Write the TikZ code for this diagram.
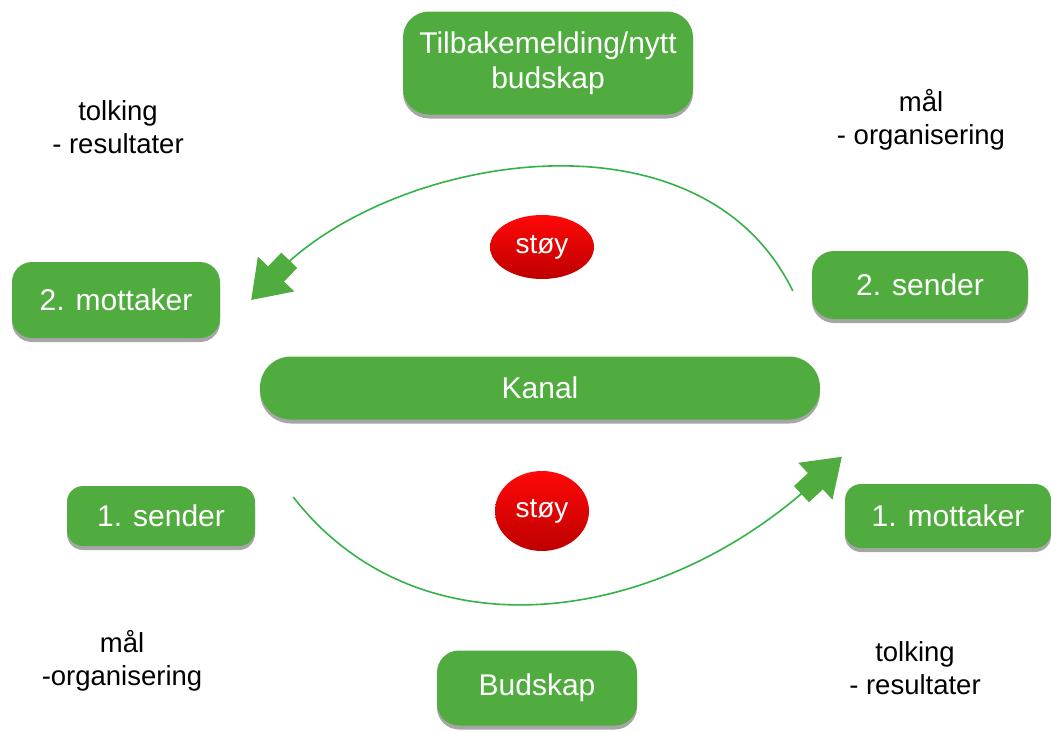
\documentclass[tikz,border=0pt]{standalone}
\usepackage{fontspec}
\setmainfont{Liberation Sans}
\usetikzlibrary{shapes.geometric,arrows.meta,shadows}
\definecolor{grn}{RGB}{80,172,62}
\definecolor{linegrn}{RGB}{52,178,72}
\definecolor{redtop}{RGB}{255,8,8}
\definecolor{redbot}{RGB}{190,0,0}
\begin{document}
\begin{tikzpicture}[x=1pt,y=-1pt,
  box/.style={rectangle, fill=grn, text=white, align=center, inner sep=0pt,
    font=\fontsize{30}{35}\selectfont,
    drop shadow={shadow xshift=0pt, shadow yshift=-4pt, opacity=0.35, fill=black}},
  noise/.style={ellipse, top color=redtop, bottom color=redbot, text=white, inner sep=0pt,
    font=\fontsize{28}{30}\selectfont},
  lbl/.style={text=black, align=center, font=\fontsize{27.5}{33}\selectfont},
  flow/.style={draw=linegrn, line width=1.6pt,
    -{Rectangle[length=20pt, width=22pt, sep=-1pt, fill=grn, color=grn]Triangle[length=36pt, width=50pt, fill=grn, color=grn]}}
]
\useasboundingbox (0,0) rectangle (1051,731);

\node[box, minimum width=290pt, minimum height=103pt, rounded corners=26pt] (tb) at (548,63) {Tilbakemelding/nytt\\budskap};
\node[box, minimum width=208pt, minimum height=76pt, rounded corners=20pt] (m2) at (116,300) {2. mottaker};
\node[box, minimum width=216pt, minimum height=68pt, rounded corners=22pt] (s2) at (920,285) {2. sender};
\node[box, minimum width=560pt, minimum height=63pt, rounded corners=31pt] (kanal) at (540,388) {Kanal};
\node[box, minimum width=188pt, minimum height=60pt, rounded corners=16pt] (s1) at (161,516) {1. sender};
\node[box, minimum width=206pt, minimum height=64pt, rounded corners=16pt] (m1) at (948,516) {1. mottaker};
\node[box, minimum width=200pt, minimum height=75pt, rounded corners=22pt] (bud) at (537,688) {Budskap};

\node[noise, minimum width=104pt, minimum height=64pt] (n1) at (542,247) {støy};
\node[noise, minimum width=94pt, minimum height=80pt] (n2) at (542,511) {støy};

\node[lbl] (l1) at (118,127) {tolking\\- resultater};
\node[lbl] (l2) at (921,120) {mål\\- organisering};
\node[lbl] (l3) at (122,661) {mål\\-organisering};
\node[lbl] (l4) at (915,668) {tolking\\- resultater};

\draw[flow] ([xshift=-19pt,yshift=-6pt]s2.west) .. controls (700,100) and (390,155) .. ([xshift=31pt]m2.east);
\draw[flow] ([xshift=38pt,yshift=19pt]s1.east) .. controls (420,660) and (660,625) .. ([xshift=-3pt,yshift=27pt]m1.north west);
\end{tikzpicture}
\end{document}
